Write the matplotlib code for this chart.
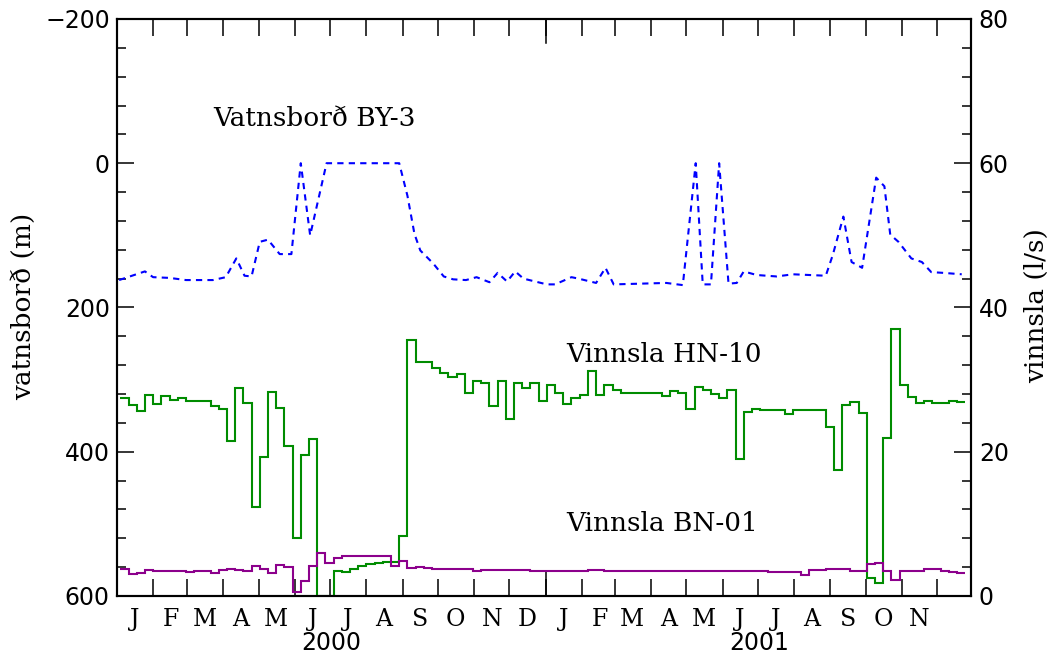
import numpy as np
import pandas as pd
import matplotlib
matplotlib.use('Agg')
import matplotlib.pyplot as plt
import matplotlib.dates as mdates
from matplotlib.ticker import MultipleLocator, FixedLocator, FuncFormatter, NullFormatter

# water level in BY-3 (m below reference), days counted from 1 Jan 2000
level_day = [2, 24, 31, 45, 59, 82, 93, 102, 109, 115, 122, 129, 139, 149, 157, 165,
             179, 241, 248, 254, 259, 270, 279, 287, 298, 307, 318, 325, 333, 340, 347,
             367, 374, 388, 394, 409, 417, 424, 469, 483, 494, 500, 507, 514, 522, 529,
             535, 546, 563, 577, 591, 605, 611, 620, 627, 636, 648, 655, 660, 667, 678,
             687, 695, 705, 721]
level_m = [162, 150, 158, 159, 162, 162, 158, 132, 156, 157, 109, 106, 126, 126, 0, 100,
           0, 0, 45, 98, 121, 139, 157, 161, 162, 158, 165, 152, 164, 150, 160,
           168, 168, 158, 160, 166, 145, 168, 166, 169, 0, 168, 168, 0, 167, 166,
           150, 155, 157, 154, 155, 156, 127, 74, 137, 145, 20, 32, 99, 109, 132,
           137, 151, 152, 154]

# weekly pumping (l/s), first week starting 4 Jan 2000
first_week = '2000-01-04'
hn10 = [27.4, 26.5, 25.6, 27.8, 26.6, 27.7, 27.2, 27.4, 27.1, 27.1,
        27.0, 26.3, 25.9, 21.5, 28.8, 26.7, 12.3, 19.3, 28.3, 26.0,
        20.8, 8.1, 19.5, 21.7, 0.0, 0.0, 3.5, 3.3, 3.8, 4.1,
        4.4, 4.6, 4.65, 4.7, 8.3, 35.5, 32.5, 32.4, 31.6, 30.9,
        30.4, 30.8, 28.2, 29.8, 29.5, 26.3, 29.8, 24.5, 29.5, 28.8,
        29.5, 27.0, 29.2, 28.2, 26.6, 27.4, 27.85, 31.2, 27.85, 29.2,
        28.6, 28.2, 28.2, 28.2, 28.2, 28.2, 27.75, 28.45, 28.2, 25.9,
        29.0, 28.6, 28.0, 27.4, 28.5, 19.0, 25.5, 25.9, 25.8, 25.8,
        25.8, 25.2, 25.8, 25.8, 25.8, 25.8, 23.4, 17.5, 26.5, 26.9,
        25.3, 2.5, 1.8, 21.9, 37.0, 29.2, 27.6, 26.7, 27.0, 26.8,
        26.8, 27.0, 26.9]
bn01 = [3.8, 3.1, 3.2, 3.6, 3.5, 3.5, 3.5, 3.5, 3.3, 3.5,
        3.5, 3.2, 3.6, 3.7, 3.6, 3.5, 4.2, 3.7, 3.2, 4.3,
        4.0, 0.5, 2.1, 4.2, 5.9, 4.6, 5.3, 5.5, 5.5, 5.6,
        5.6, 5.6, 5.6, 4.2, 4.9, 3.9, 4.0, 3.9, 3.8, 3.8,
        3.7, 3.7, 3.7, 3.45, 3.65, 3.65, 3.65, 3.6, 3.65, 3.65,
        3.5, 3.4, 3.45, 3.45, 3.45, 3.45, 3.45, 3.6, 3.6, 3.45,
        3.45, 3.45, 3.45, 3.45, 3.45, 3.45, 3.45, 3.45, 3.45, 3.45,
        3.4, 3.4, 3.4, 3.4, 3.45, 3.45, 3.45, 3.45, 3.45, 3.3,
        3.3, 3.3, 3.3, 2.9, 3.6, 3.6, 3.7, 3.8, 3.7, 3.45,
        3.45, 4.4, 4.6, 3.5, 2.2, 3.5, 3.4, 3.4, 3.7, 3.7,
        3.5, 3.3, 3.2]

serif = 'DejaVu Serif'
fs = 17      # tick labels
fs_txt = 19  # curve names and axis titles

t0 = mdates.date2num(np.datetime64('2000-01-01'))
edges = mdates.date2num(pd.date_range(first_week, periods=len(hn10) + 1, freq='7D').to_pydatetime())

fig = plt.figure(figsize=(10.54, 6.56), dpi=100)
ax = fig.add_axes([0.1108, 0.0915, 0.8100, 0.8796])
ax2 = ax.twinx()

ax.plot(t0 + np.array(level_day), level_m, color='#0000ff', lw=1.5, dashes=(3, 2.5))
ax2.stairs(hn10, edges, baseline=None, color='#008c00', lw=1.5)
ax2.stairs(bn01, edges, baseline=None, color='#8c008c', lw=1.5)

ax.set_xlim(t0, t0 + 728.5)
ax.set_ylim(600, -200)
ax2.set_ylim(0, 80)

# months: ticks at month starts, letters centred in each month
mid = mdates.date2num((pd.date_range('2000-01-01', '2001-11-30', freq='MS') + pd.Timedelta(days=15)).to_pydatetime())
ax.xaxis.set_major_locator(mdates.MonthLocator())
ax.xaxis.set_major_formatter(NullFormatter())
ax.xaxis.set_minor_locator(FixedLocator(mid))
ax.xaxis.set_minor_formatter(FuncFormatter(lambda x, pos: mdates.num2date(x).strftime('%b')[0]))
ax.tick_params(axis='x', which='major', direction='in', length=12, width=1.1, top=True, bottom=True)
ax.tick_params(axis='x', which='minor', length=0, pad=9, labelsize=fs, labelfontfamily=serif)

# longer tick at the turn of the year
ynew = mdates.date2num(np.datetime64('2001-01-01'))
for lo, hi in [(0, 24 / 577), (1 - 24 / 577, 1)]:
    ax.axvline(ynew, ymin=lo, ymax=hi, color='k', lw=1.1)

ax.yaxis.set_major_locator(MultipleLocator(200))
ax.yaxis.set_minor_locator(MultipleLocator(40))
ax.tick_params(axis='y', which='major', direction='in', length=12, width=1.1, pad=5, labelsize=fs)
ax.tick_params(axis='y', which='minor', direction='in', length=6.5, width=1.1)

ax2.yaxis.set_major_locator(MultipleLocator(20))
ax2.yaxis.set_minor_locator(MultipleLocator(4))
ax2.tick_params(axis='y', which='major', direction='in', length=12, width=1.1, pad=6, labelsize=fs)
ax2.tick_params(axis='y', which='minor', direction='in', length=6.5, width=1.1)

for a in (ax, ax2):
    for s in a.spines.values():
        s.set_linewidth(1.5)

xt = ax.get_xaxis_transform()
for yr in ['2000', '2001']:
    ax.text(mdates.date2num(np.datetime64(yr + '-07-02')), -0.081, yr, transform=xt,
            ha='center', va='center', fontsize=fs)

ax.text(t0 + 82, -62, 'Vatnsborð BY-3', family=serif, fontsize=fs_txt, va='center')
ax.text(t0 + 383.5, 265, 'Vinnsla HN-10', family=serif, fontsize=fs_txt, va='center')
ax.text(t0 + 383.5, 500, 'Vinnsla BN-01', family=serif, fontsize=fs_txt, va='center')

fig.text(24 / 1054, 1 - 306 / 656, 'vatnsborð (m)', rotation=90, ha='center', va='center',
         family=serif, fontsize=fs_txt)
fig.text(1037 / 1054, 1 - 306 / 656, 'vinnsla (l/s)', rotation=90, ha='center', va='center',
         family=serif, fontsize=fs_txt)

fig.savefig('out.png', dpi=100)
